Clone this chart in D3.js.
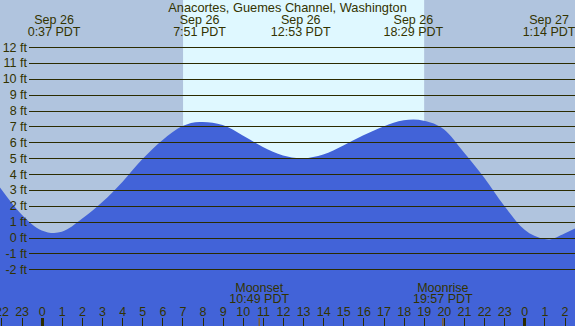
<!DOCTYPE html>
<html>
<head>
<meta charset="utf-8">
<script src="https://cdn.jsdelivr.net/npm/d3@7"></script>
<style>
  html, body { margin: 0; padding: 0; background: #b0c4de; }
  svg { display: block; }
  text { font-family: "Liberation Sans", Arial, sans-serif; font-size: 12.5px; fill: #333300; }
</style>
</head>
<body>
<div id="container"></div>
<script>
var WIDTH = 575,
    HEIGHT = 326;

var title = 'Anacortes, Guemes Channel, Washington';

// hours are counted from Sep 26 0:00 PDT
var sunRise = 7.03,
    sunSet = 19.02;

// high / low tides
var tideHours = [0.617, 7.85, 12.883, 18.483, 25.233],
    tideDays = ['Sep 26', 'Sep 26', 'Sep 26', 'Sep 26', 'Sep 27'],
    tideTimes = ['0:37 PDT', '7:51 PDT', '12:53 PDT', '18:29 PDT', '1:14 PDT'];

// water level (ft)
var levelHours = [-2.1, -2, -1, 0, 0.617, 1, 2, 3, 4, 5, 6, 7, 7.85, 8, 9, 10, 11, 12, 12.883,
                  13, 14, 15, 16, 17, 18, 18.483, 19, 20, 21, 22, 23, 24, 25, 25.233, 26, 26.6],
    levelFeet = [3.2, 3.03, 1.45, 0.45, 0.29, 0.36, 1.18, 2.22, 3.49, 4.93, 6.13, 7.02, 7.28, 7.28, 7.08, 6.43, 5.7, 5.17, 5.0,
                 5.0, 5.23, 5.8, 6.44, 7.0, 7.38, 7.44, 7.36, 6.82, 5.36, 3.78, 2.0, 0.5, -0.09, -0.12, 0.25, 0.62];

var moonHours = [10.817, 19.95],
    moonNames = ['Moonset', 'Moonrise'],
    moonTimes = ['10:49 PDT', '19:57 PDT'];

var feetTicks = d3.range(-2, 13);
var hourTicks = d3.range(-2, 27);

var x = d3.scaleLinear().domain([0, 24]).range([41.7, 524.3]),
    y = d3.scaleLinear().domain([-2, 12]).range([269.3, 47]);

var svg = d3.select('#container').append('svg')
    .attr('width', WIDTH)
    .attr('height', HEIGHT);

// night and day
svg.append('rect')
    .attr('width', WIDTH)
    .attr('height', HEIGHT)
    .attr('fill', '#b0c4de');
svg.append('rect')
    .attr('x', x(sunRise))
    .attr('width', x(sunSet) - x(sunRise))
    .attr('height', HEIGHT)
    .attr('fill', '#dff8ff');

// water
var levels = levelHours.map(function(h, i) { return {h: h, ft: levelFeet[i]}; });
var area = d3.area()
    .x(function(d) { return x(d.h); })
    .y0(HEIGHT)
    .y1(function(d) { return y(d.ft); })
    .curve(d3.curveMonotoneX);
svg.append('path')
    .datum(levels)
    .attr('d', area)
    .attr('fill', '#4263d8');

// feet grid
var yAxis = svg.append('g')
    .attr('transform', 'translate(29,0)')
    .call(d3.axisLeft(y)
      .tickValues(feetTicks)
      .tickSize(-(WIDTH - 29))
      .tickPadding(2)
      .tickFormat(function(d) { return d + ' ft'; }));
yAxis.select('.domain').remove();
yAxis.selectAll('line')
    .attr('stroke', '#2b2b00')
    .attr('stroke-width', 1)
    .attr('shape-rendering', 'crispEdges');
yAxis.selectAll('text')
    .attr('fill', '#333300')
    .style('font-size', '12.5px')
    .style('font-family', '"Liberation Sans", Arial, sans-serif');

// hour ticks along the bottom
var xAxis = svg.append('g')
    .attr('transform', 'translate(0,' + HEIGHT + ')')
    .call(d3.axisTop(x)
      .tickValues(hourTicks)
      .tickSize(8)
      .tickPadding(2)
      .tickFormat(function(d) { return (d + 24) % 24; }));
xAxis.select('.domain').remove();
xAxis.selectAll('line')
    .attr('stroke', '#2b2b00')
    .attr('stroke-width', function(d) { return d % 24 == 0 ? 3 : 1; })
    .attr('shape-rendering', 'crispEdges');
xAxis.selectAll('text')
    .attr('fill', '#333300')
    .style('font-size', '12.5px')
    .style('font-family', '"Liberation Sans", Arial, sans-serif');

// moon ticks
svg.selectAll('.moontick')
    .data(moonHours)
    .enter()
    .append('line')
      .attr('class', 'moontick')
      .attr('x1', function(d) { return x(d); })
      .attr('x2', function(d) { return x(d); })
      .attr('y1', HEIGHT - 8)
      .attr('y2', HEIGHT)
      .attr('stroke', '#806030')
      .attr('stroke-width', 1.5);

var moonLabels = svg.selectAll('.moonlabel')
    .data(moonHours)
    .enter()
    .append('text')
      .attr('class', 'moonlabel')
      .attr('text-anchor', 'middle')
      .attr('x', function(d) { return x(d); });
moonLabels.append('tspan')
    .attr('x', function(d) { return x(d); })
    .attr('y', 291.7)
    .text(function(d, i) { return moonNames[i]; });
moonLabels.append('tspan')
    .attr('x', function(d) { return x(d); })
    .attr('y', 303.3)
    .text(function(d, i) { return moonTimes[i]; });

// title and tide times
svg.append('text')
    .attr('x', WIDTH / 2)
    .attr('y', 12)
    .attr('text-anchor', 'middle')
    .style('font-size', '12.8px')
    .text(title);

var tideLabels = svg.selectAll('.tidelabel')
    .data(tideHours)
    .enter()
    .append('text')
      .attr('class', 'tidelabel')
      .attr('text-anchor', 'middle');
tideLabels.append('tspan')
    .attr('x', function(d) { return x(d); })
    .attr('y', 24)
    .text(function(d, i) { return tideDays[i]; });
tideLabels.append('tspan')
    .attr('x', function(d) { return x(d); })
    .attr('y', 35.5)
    .text(function(d, i) { return tideTimes[i]; });
</script>
</body>
</html>
